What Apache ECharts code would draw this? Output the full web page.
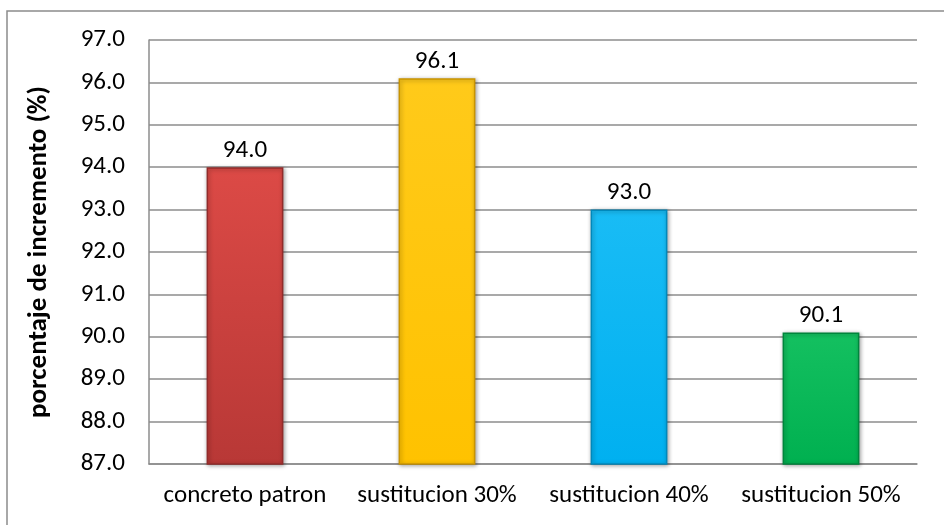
<!DOCTYPE html>
<html>
<head>
<meta charset="utf-8">
<script src="https://cdn.jsdelivr.net/npm/echarts@6/dist/echarts.min.js"></script>
<style>
  html, body { margin: 0; padding: 0; background: #fff; }
  #chart { width: 944px; height: 525px; }
</style>
</head>
<body>
<div id="chart"></div>
<script>
// Categories and values
const categories = ['concreto patron', 'sustitucion 30%', 'sustitucion 40%', 'sustitucion 50%'];
const values = [94.0, 96.1, 93.0, 90.1];
const yTicks = { min: 87, max: 97, step: 1 };

// Bar fills: light / base / dark shade per category
const barShades = [
  ['#dc4a46', '#b83836', '#922b2a'],
  ['#ffca1a', '#ffc200', '#c99400'],
  ['#19bcf5', '#00b0f0', '#0088bb'],
  ['#14c060', '#00b050', '#00853c']
];

const FONT = 'Carlito, "Liberation Sans", sans-serif';

function barFill(s) {
  return new echarts.graphic.LinearGradient(0, 0, 0, 1, [
    { offset: 0, color: s[0] },
    { offset: 1, color: s[1] }
  ]);
}

const chart = echarts.init(document.getElementById('chart'), null, { renderer: 'canvas' });

chart.setOption({
  animation: false,
  backgroundColor: '#fff',
  graphic: [{
    type: 'rect',
    shape: { x: 7, y: 11, width: 1000, height: 600 },
    style: { fill: 'none', stroke: '#8c8c8c', lineWidth: 1.5 },
    z: -1
  }],
  grid: { left: 149, right: 27, top: 40, bottom: 61 },
  xAxis: {
    type: 'category',
    data: categories,
    axisLine: { show: true, lineStyle: { color: '#8c8c8c', width: 1.5 } },
    axisTick: { show: false },
    axisLabel: { color: '#000', fontFamily: FONT, fontSize: 25, margin: 19, interval: 0 }
  },
  yAxis: {
    type: 'value',
    min: yTicks.min,
    max: yTicks.max,
    interval: yTicks.step,
    name: 'porcentaje de incremento (%)',
    nameLocation: 'middle',
    nameGap: 96,
    nameRotate: 90,
    nameTextStyle: { color: '#000', fontFamily: FONT, fontSize: 27, fontWeight: 'bold' },
    axisLine: { show: true, lineStyle: { color: '#8c8c8c', width: 1.5 } },
    axisTick: { show: false },
    axisLabel: {
      color: '#000', fontFamily: FONT, fontSize: 25, margin: 24,
      formatter: v => v.toFixed(1)
    },
    splitLine: { show: true, lineStyle: { color: '#8c8c8c', width: 1.5 } }
  },
  series: [{
    type: 'bar',
    barWidth: '40%',
    data: values.map((v, i) => ({
      value: v,
      itemStyle: {
        color: barFill(barShades[i]),
        borderColor: barShades[i][2],
        borderWidth: 1.5,
        shadowColor: 'rgba(0,0,0,0.35)',
        shadowBlur: 4,
        shadowOffsetX: 1,
        shadowOffsetY: 1
      }
    })),
    label: {
      show: true,
      position: 'top',
      distance: 4,
      color: '#000',
      fontFamily: FONT,
      fontSize: 25,
      formatter: p => p.value.toFixed(1)
    }
  }]
});
</script>
</body>
</html>
